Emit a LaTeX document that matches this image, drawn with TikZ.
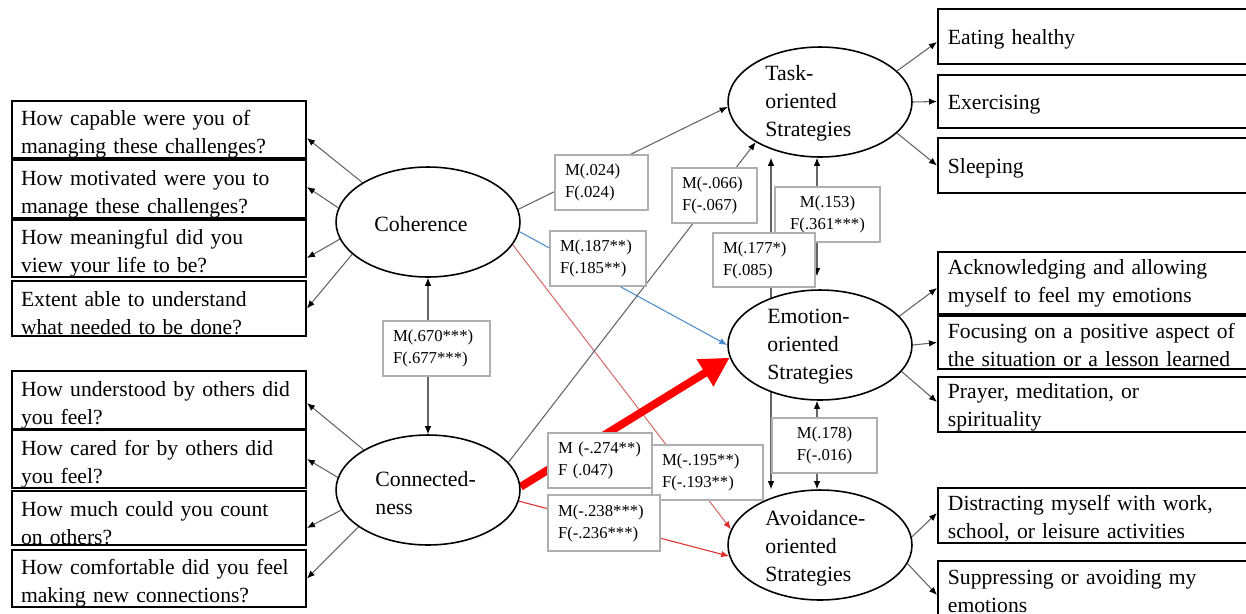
\documentclass[tikz,border=0pt]{standalone}
\usepackage{fontspec}
\setmainfont{Liberation Serif}
\usetikzlibrary{shapes.geometric,arrows.meta,calc}
\pgfdeclarelayer{back}
\pgfdeclarelayer{bg}
\pgfsetlayers{back,bg,main}
\definecolor{lgray}{RGB}{100,100,100}
\definecolor{bgray}{RGB}{175,175,175}
\definecolor{cblue}{RGB}{75,140,205}
\definecolor{cred}{RGB}{225,45,45}
\definecolor{cpink}{RGB}{215,110,110}
\definecolor{thickred}{RGB}{255,0,0}
\newcommand\lstrut{\rule{0pt}{0.5cm}}
\newcommand\rstrut{\rule{0pt}{0.42cm}}
\begin{document}
\begin{tikzpicture}[x=0.02cm,y=-0.02cm,
 ind/.style={draw=black,line width=1.1pt,fill=white,rectangle,minimum height=1.1cm,inner ysep=0pt,align=left,font=\fontsize{12.3}{15.9}\selectfont},
 lind/.style={ind,inner xsep=0.18cm,text width=5.52cm},
 rind/.style={ind,anchor=west,inner xsep=0.2cm,text width=6.2cm},
 lat/.style={draw=black,line width=0.9pt,fill=white,ellipse,minimum width=3.68cm,minimum height=2.2cm,inner sep=0pt},
 lattext/.style={inner sep=0pt,align=left,anchor=west,font=\fontsize{12.4}{15.9}\selectfont},
 lab/.style={draw=bgray,line width=0.6pt,fill=white,rectangle,inner xsep=0.2cm,inner ysep=0pt,minimum height=1.1cm,font=\fontsize{9.5}{12.5}\selectfont},
 link/.style={draw=lgray,line width=0.6pt,-{Latex[length=1.6mm,width=1.3mm,color=black]}},
 dlink/.style={draw=lgray,line width=0.6pt,{Latex[length=1.6mm,width=1.3mm,color=black]}-{Latex[length=1.6mm,width=1.3mm,color=black]}},
 bluelink/.style={draw=cblue,line width=0.6pt,-{Latex[length=1.6mm,width=1.3mm,color=cblue]}},
 pinklink/.style={draw=cpink,line width=0.6pt,-{Latex[length=1.6mm,width=1.3mm,color=cred]}},
 redlink/.style={draw=cred,line width=0.6pt,-{Latex[length=1.6mm,width=1.3mm,color=cred]}},
 thicklink/.style={draw=thickred,line width=4.5pt,-{Triangle[length=0.58cm,width=0.6cm]}}
]
\path[use as bounding box] (0,0) rectangle (1246,613);
\begin{pgfonlayer}{back}
\fill[white] (0,0) rectangle (1246,613);
\end{pgfonlayer}

% indicator boxes left
\node[lind] (i1) at (159,129.5) {\lstrut How capable were you of\\managing these challenges?};
\node[lind,minimum height=1.12cm] (i2) at (159,189) {\lstrut How motivated were you to\\manage these challenges?};
\node[lind] (i3) at (159,248.5) {\lstrut How meaningful did you\\view your life to be?};
\node[lind] (i4) at (159,308.5) {\lstrut Extent able to understand\\what needed to be done?};
\node[lind,minimum height=1.08cm] (i5) at (159,400) {\lstrut How understood by others did\\you feel?};
\node[lind,minimum height=1.12cm] (i6) at (159,459) {\lstrut How cared for by others did\\you feel?};
\node[lind,minimum height=1.08cm] (i7) at (159,518) {\lstrut How much could you count\\on others?};
\node[lind] (i8) at (159,578.5) {\lstrut How comfortable did you feel\\making new connections?};

% indicator boxes right
\node[rind] (t1) at (937,36.5) {\rstrut Eating healthy};
\node[rind,minimum height=1.06cm] (t2) at (937,101.5) {\rstrut Exercising};
\node[rind] (t3) at (937,165.5) {\rstrut Sleeping};
\node[rind,minimum height=1.24cm] (e1) at (937,283) {Acknowledging and allowing\\myself to feel my emotions};
\node[rind,minimum height=1.06cm] (e2) at (937,342.5) {\rstrut Focusing on a positive aspect of\\the situation or a lesson learned};
\node[rind] (e3) at (937,404.5) {\rstrut Prayer, meditation, or\\spirituality};
\node[rind] (a1) at (937,515.5) {\rstrut Distracting myself with work,\\school, or leisure activities};
\node[rind] (a2) at (937,588.5) {\rstrut Suppressing or avoiding my\\emotions};

% latent ellipses
\node[lat] (coh) at (428,222) {};
\node[lat] (cnx) at (428,490) {};
\node[lat] (task) at (820,102) {};
\node[lat] (emo) at (820,345) {};
\node[lat] (avo) at (820,545) {};
\node[lattext,anchor=center] (cohT) at (421,224) {Coherence};
\node[lattext] (cnxT) at (375,493) {Connected-\\ness};
\node[lattext] (taskT) at (765,103) {Task-\\oriented\\Strategies};
\node[lattext] (emoT) at (767,347) {Emotion-\\oriented\\Strategies};
\node[lattext] (avoT) at (765,548) {Avoidance-\\oriented\\Strategies};

% label boxes
\node[lab,text width=1.46cm,align=left] (l024) at (601.5,182.5) {M(.024)\\F(.024)};
\node[lab,text width=1.3cm,align=left] (l066) at (714.5,195.5) {M(-.066)\\F(-.067)};
\node[lab,text width=1.52cm,align=left] (l187) at (598,258.5) {M(.187**)\\F(.185**)};
\node[lab,text width=1.7cm,align=center] (l153) at (827.5,214.5) {M(.153)\\F(.361***)};
\node[lab,text width=1.64cm,align=left,minimum height=1.08cm] (l177) at (764,260) {M(.177*)\\F(.085)};
\node[lab,text width=1.74cm,align=left] (l670) at (436.5,348.5) {M(.670***)\\F(.677***)};
\node[lab,text width=1.7cm,align=center] (l178) at (824.5,445.5) {M(.178)\\F(-.016)};
\node[lab,text width=1.82cm,align=left] (l195) at (707.5,472.5) {M(-.195**)\\F(-.193**)};
\node[lab,text width=1.84cm,align=left,minimum height=1.12cm] (l238) at (604,523) {M(-.238***)\\F(-.236***)};
\node[lab,text width=1.68cm,align=left] (l274) at (600,460.5) {M (-.274**)\\F (.047)};

\coordinate (c771) at (771,0);
\coordinate (c817) at (817,0);

\begin{pgfonlayer}{bg}
% measurement arrows
\draw[link] (coh.149) -- ([yshift=-0.17cm]i1.east);
\draw[link] (coh.171) -- ([yshift=0.04cm]i2.east);
\draw[link] (coh.191) -- ([yshift=-0.19cm]i3.east);
\draw[link] (coh.203) -- (i4.east);
\draw[link] (cnx.148) -- ([yshift=-0.06cm]i5.east);
\draw[link] (cnx.172) -- (i6.east);
\draw[link] (cnx.193) -- ([yshift=-0.2cm]i7.east);
\draw[link] (cnx.208) -- (i8.east);
\draw[link] (task.22) -- ([yshift=-0.11cm]t1.west);
\draw[link] (task.0) -- (t2.west);
\draw[link] (task.-22) -- (t3.west);
\draw[link] (emo.20) -- ([yshift=-0.1cm]e1.west);
\draw[link] (emo.0) -- (e2.west);
\draw[link] (emo.-18) -- ([yshift=0.05cm]e3.west);
\draw[link] (avo.5) -- ([yshift=0.05cm]a1.west);
\draw[link] (avo.-12) -- ([yshift=-0.13cm]a2.west);
% structural paths
\draw[dlink] (coh.south) -- (cnx.north);
\draw[link] (coh.8) -- (task.183);
\draw[bluelink] (coh.-6) -- (emo.180);
\draw[pinklink] (coh.-15) -- (avo.170);
\draw[link] (cnx.19) -- (task.212);
\draw[redlink] (cnx.-7) -- (avo.187);
\draw[thicklink] (cnx.2) -- (emo.188);
\draw[dlink] (task.south -| c771) -- (avo.north -| c771);
\draw[dlink] (task.south -| c817) -- ($(emo.north -| c817)+(0,-13)$);
\draw[dlink] (emo.south -| c817) -- (avo.north -| c817);
\end{pgfonlayer}
\end{tikzpicture}
\end{document}
